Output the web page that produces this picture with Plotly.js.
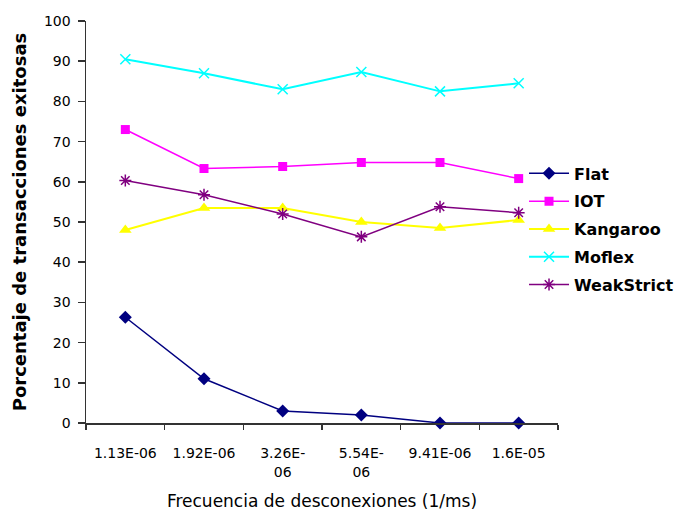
<!DOCTYPE html>
<html>
<head>
<meta charset="utf-8">
<script src="https://cdn.plot.ly/plotly-3.0.1.min.js"></script>
<style>
  html, body { margin: 0; padding: 0; background: #fff; }
  #chart { width: 691px; height: 517px; }
</style>
</head>
<body>
<div id="chart"></div>
<script>
// Disconnection frequency categories (1/ms)
const categories = ["1.13E-06", "1.92E-06", "3.26E-<br>06", "5.54E-<br>06", "9.41E-06", "1.6E-05"];

// Percentage of successful transactions per protocol
const flat       = [26.3, 11, 3, 2, 0, 0];
const iot        = [73, 63.3, 63.8, 64.8, 64.8, 60.8];
const kangaroo   = [48, 53.5, 53.5, 50, 48.5, 50.5];
const moflex     = [90.5, 87, 83, 87.3, 82.5, 84.5];
const weakStrict = [60.3, 56.8, 52, 46.3, 53.8, 52.3];

const seriesNames = ["Flat", "IOT", "Kangaroo", "Moflex", "WeakStrict"];

const FONT = "DejaVu Sans, Verdana, sans-serif";

function line(name, y, color, symbol, size, width) {
  const outline = symbol.indexOf("open") >= 0;
  return {
    type: "scatter",
    mode: "lines+markers",
    name: name,
    legendgroup: name,
    x: categories,
    y: y,
    cliponaxis: false,
    line: { color: color, width: width },
    marker: { color: color, symbol: symbol, size: size,
              line: { color: color, width: outline ? 1.5 : 0 } }
  };
}

const traces = [
  line(seriesNames[0], flat,       "#000080", "diamond",       10, 1.5),
  line(seriesNames[1], iot,        "#FF00FF", "square",         9, 1.5),
  line(seriesNames[2], kangaroo,   "#FFFF00", "triangle-up",   11, 2),
  line(seriesNames[3], moflex,     "#00FFFF", "x-thin-open",   10, 2),
  line(seriesNames[4], weakStrict, "#800080", "asterisk-open", 10, 1.5)
];

const layout = {
  width: 691,
  height: 517,
  margin: { l: 86, r: 133, t: 21, b: 94, autoexpand: false },
  paper_bgcolor: "#ffffff",
  plot_bgcolor: "#ffffff",
  font: { family: FONT, color: "#000", size: 12 },
  showlegend: true,
  legend: {
    x: 0.928, xanchor: "left",
    y: 0.663, yanchor: "top",
    bgcolor: "rgba(0,0,0,0)",
    font: { family: FONT, size: 16, color: "#000", weight: "bold" },
    tracegroupgap: 4,
    itemwidth: 40
  },
  xaxis: {
    type: "category",
    range: [-0.5, 5.5],
    showgrid: false,
    zeroline: false,
    showline: true,
    linecolor: "#333",
    linewidth: 1.5,
    ticks: "outside",
    tickson: "boundaries",
    ticklen: 5,
    tickwidth: 1.5,
    tickcolor: "#333",
    ticklabelstandoff: 17,
    tickfont: { family: FONT, size: 14, color: "#000" },
    title: { text: "Frecuencia de desconexiones (1/ms)", font: { family: FONT, size: 17, color: "#000" }, standoff: 16 }
  },
  yaxis: {
    range: [0, 100],
    dtick: 10,
    showgrid: false,
    zeroline: false,
    showline: true,
    linecolor: "#333",
    linewidth: 1.5,
    ticks: "outside",
    ticklen: 7,
    tickwidth: 1.5,
    tickcolor: "#333",
    ticklabelstandoff: 4,
    tickfont: { family: FONT, size: 14, color: "#000" },
    title: { text: "Porcentaje de transacciones exitosas", font: { family: FONT, size: 18, color: "#000", weight: "bold" }, standoff: 12 }
  }
};

Plotly.newPlot("chart", traces, layout, { displayModeBar: false, staticPlot: true });
</script>
</body>
</html>
